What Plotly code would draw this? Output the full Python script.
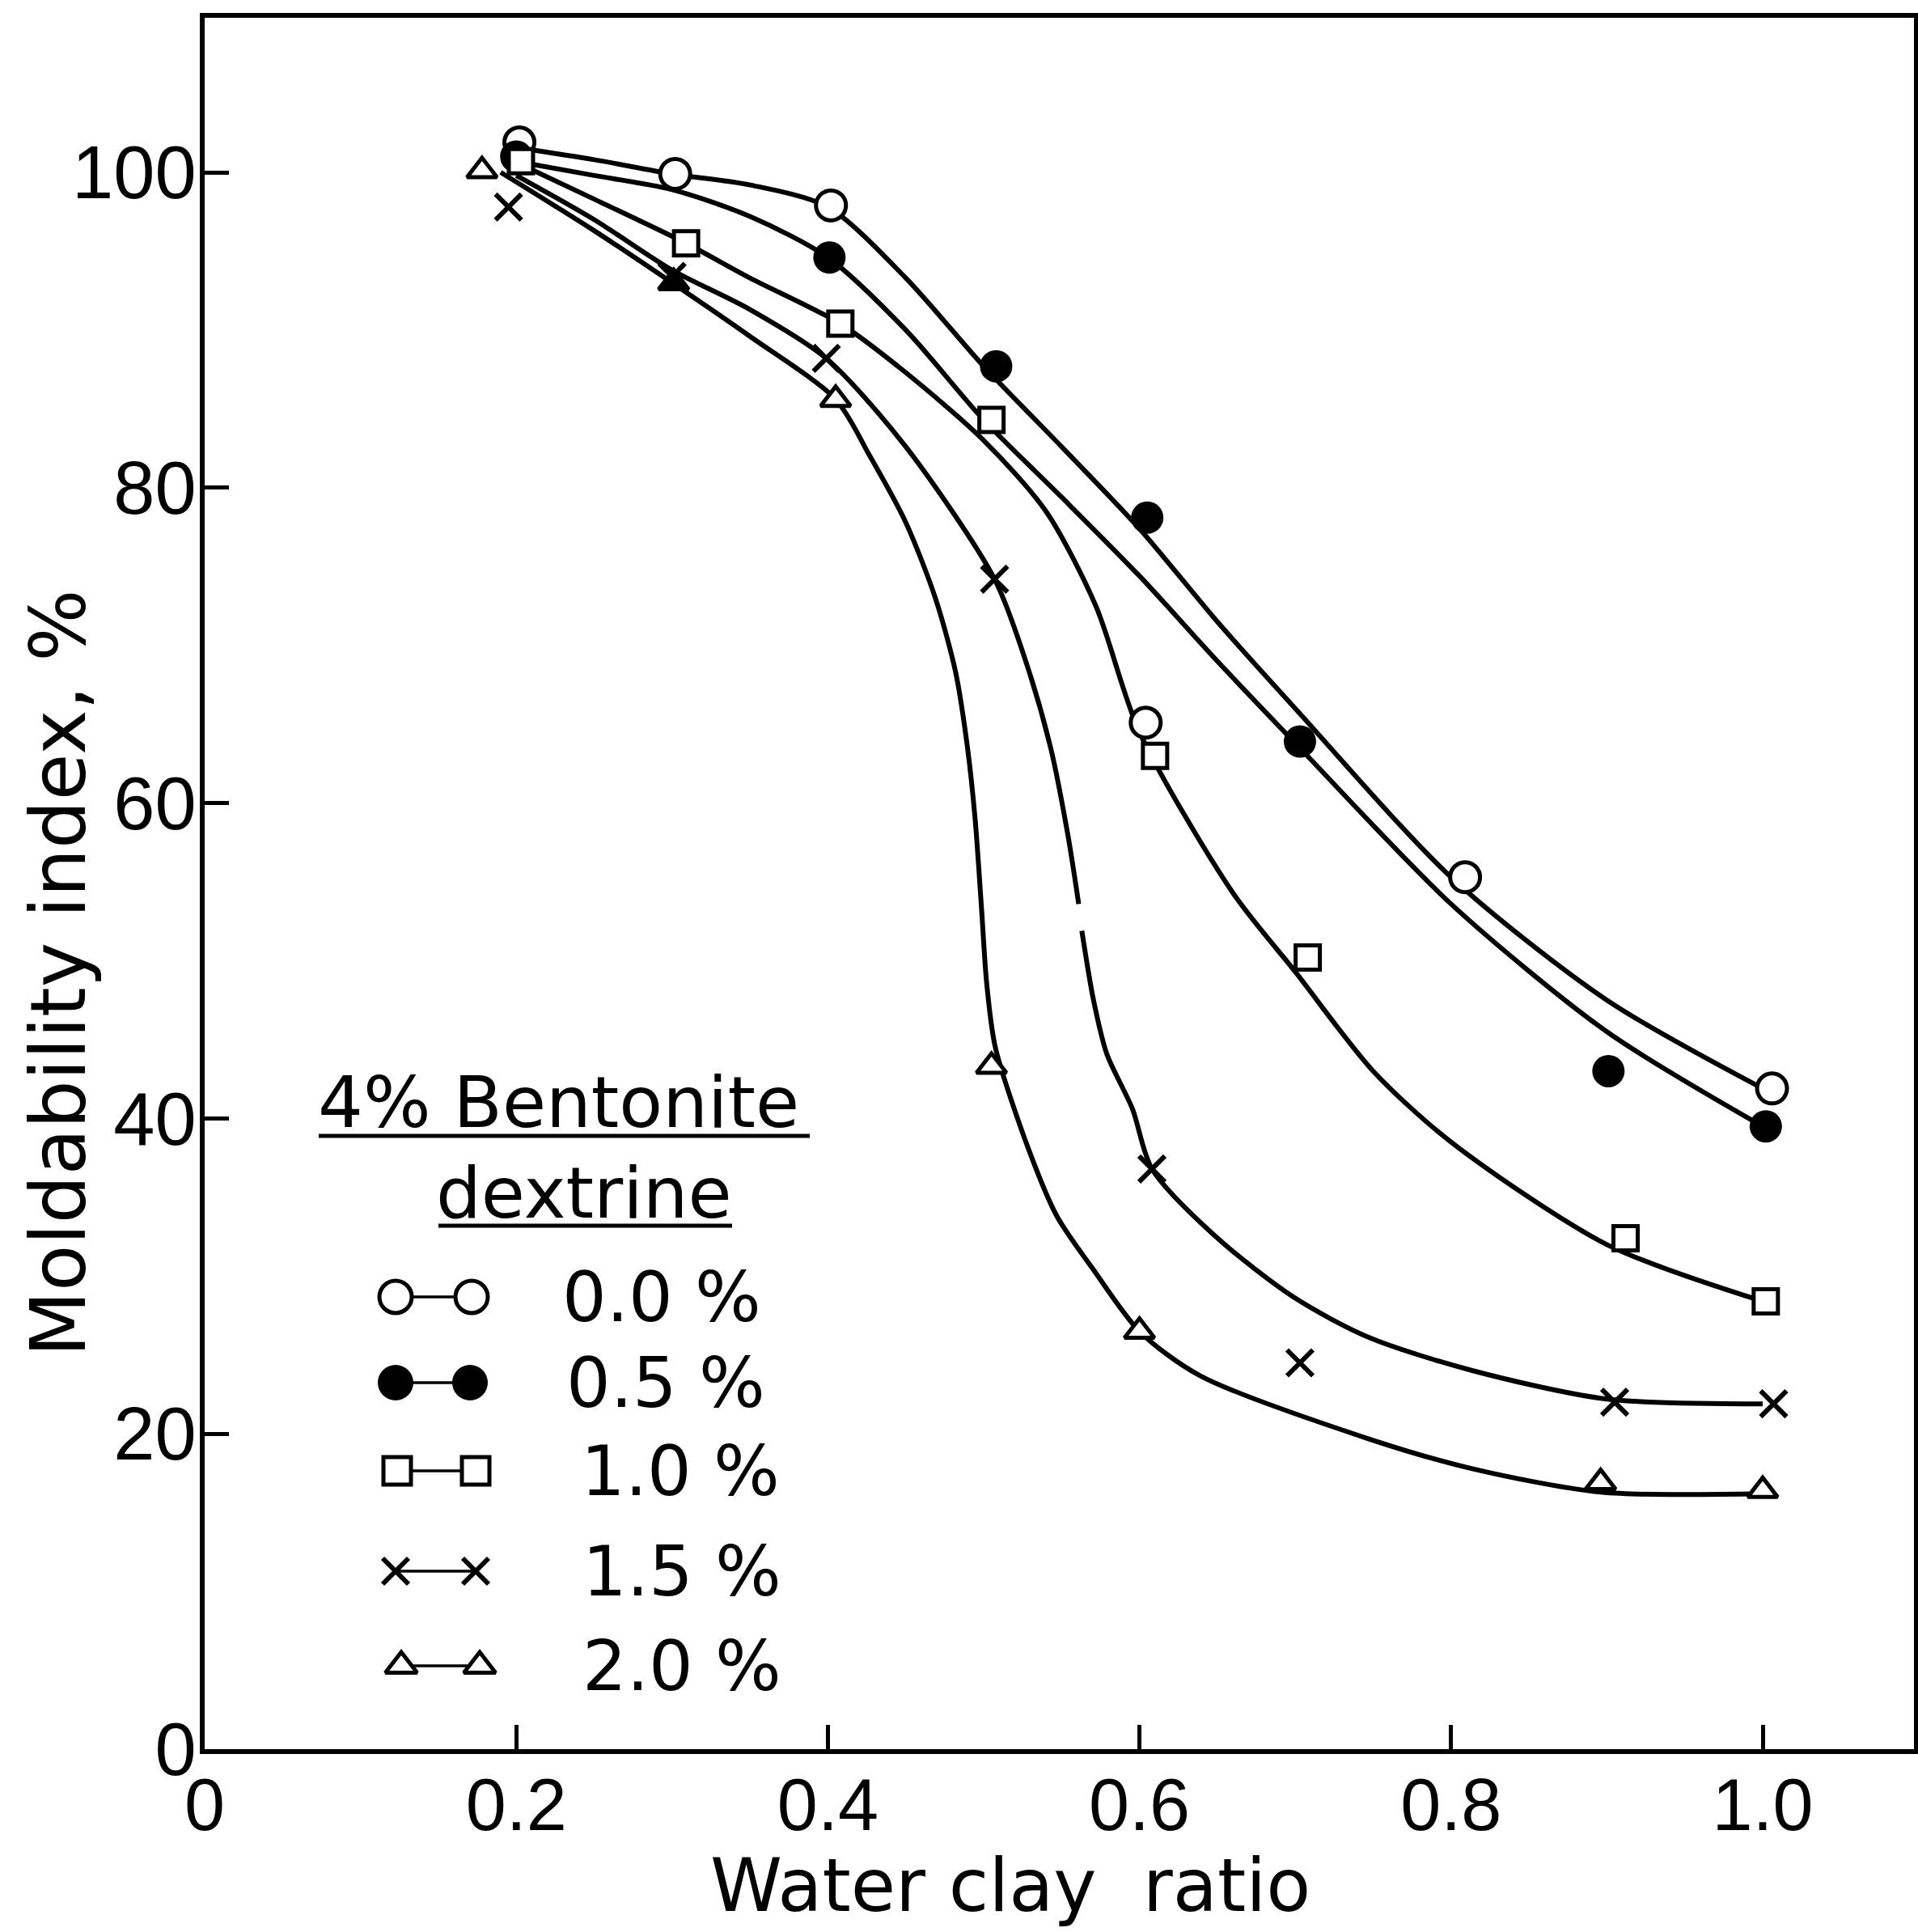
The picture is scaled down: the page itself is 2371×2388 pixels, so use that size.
import plotly.graph_objects as go

W, H = 2371, 2388

# ---------------- data ----------------
series_labels = ["0.0 %", "0.5 %", "1.0 %", "1.5 %", "2.0 %"]
legend_title_1 = "4% Bentonite"
legend_title_2 = "dextrine"
x_title = "Water clay\u00a0 ratio"
y_title = "Moldability index, %"

x_tickvals = [0, 0.2, 0.4, 0.6, 0.8, 1.0]
x_ticktext = ["0", "0.2", "0.4", "0.6", "0.8", "1.0"]
y_tickvals = [0, 20, 40, 60, 80, 100]
y_ticktext = ["0", "20", "40", "60", "80", "100"]

# measured points
x_00 = [0.202, 0.302, 0.402, 0.604, 0.809, 1.006]
y_00 = [101.9, 99.9, 97.9, 65.1, 55.3, 41.9]

x_05 = [0.200, 0.401, 0.508, 0.605, 0.703, 0.901, 1.002]
y_05 = [101.0, 94.6, 87.7, 78.1, 63.9, 43.0, 39.5]

x_10 = [0.203, 0.309, 0.408, 0.505, 0.610, 0.708, 0.912, 1.002]
y_10 = [100.7, 95.5, 90.4, 84.3, 63.0, 50.2, 32.4, 28.4]

x_15 = [0.195, 0.300, 0.399, 0.507, 0.608, 0.703, 0.905, 1.007]
y_15 = [97.8, 93.4, 88.2, 74.2, 36.8, 24.5, 22.0, 21.9]

x_20 = [0.178, 0.301, 0.405, 0.505, 0.600, 0.896, 1.000]
y_20 = [100.1, 93.0, 85.6, 43.3, 26.5, 16.9, 16.4]

# smooth curves as drawn by hand in the chart
cx_00 = [0.205, 0.25, 0.30, 0.35, 0.40, 0.45, 0.50, 0.55, 0.60, 0.65, 0.70, 0.80, 0.90, 1.00]
cy_00 = [101.5, 100.8, 99.9, 99.2, 97.8, 93.3, 87.7, 82.6, 77.4, 71.5, 66.0, 55.3, 47.5, 41.9]

cx_05 = [0.205, 0.25, 0.30, 0.35, 0.40, 0.45, 0.50, 0.55, 0.60, 0.65, 0.70, 0.80, 0.90, 1.00]
cy_05 = [100.6, 99.8, 98.9, 97.2, 94.6, 90.0, 84.3, 79.4, 74.4, 69.0, 63.8, 53.6, 45.5, 39.5]

cx_10 = [0.205, 0.25, 0.309, 0.35, 0.408, 0.45, 0.50, 0.54, 0.572, 0.60, 0.66, 0.70, 0.75, 0.80, 0.90, 1.00]
cy_10 = [100.4, 98.3, 95.5, 93.3, 90.4, 87.3, 83.0, 78.5, 72.5, 64.5, 54.3, 49.3, 43.0, 38.5, 32.0, 28.4]

cx_15a = [0.20, 0.25, 0.30, 0.35, 0.399, 0.45, 0.507, 0.527, 0.543, 0.554, 0.561]
cy_15a = [99.8, 97.0, 93.8, 91.3, 88.2, 82.6, 74.2, 69.0, 63.5, 58.0, 53.6]
cx_15b = [0.563, 0.5705, 0.579, 0.5955, 0.608, 0.649, 0.70, 0.7475, 0.814, 0.90, 1.00]
cy_15b = [51.9, 47.5, 44.1, 40.6, 36.8, 32.5, 28.6, 26.1, 24.0, 22.2, 21.9]

cx_20 = [0.19, 0.25, 0.30, 0.35, 0.405, 0.427, 0.45, 0.469, 0.482, 0.4895, 0.4945, 0.4985,
         0.502, 0.5075, 0.529, 0.547, 0.5705, 0.60, 0.6386, 0.7465, 0.813, 0.896, 1.00]
cy_20 = [100.0, 96.3, 93.0, 89.6, 85.6, 82.0, 77.8, 73.0, 68.3, 63.6, 59.0, 53.5,
         48.5, 44.5, 38.0, 33.8, 30.4, 26.5, 23.7, 19.7, 17.8, 16.3, 16.2]

# ---------------- styling / layout ----------------
FONT_NUM = "Liberation Sans, Arial, sans-serif"
FONT_TXT = "DejaVu Sans, Verdana, sans-serif"
LW = 6

# plot area in pixels
PL, PR, PT, PB = 253, 2366, 22, 2162
X_RANGE = [0, (PR - PL) / 1926.0]
Y_RANGE = [0, (PB - PT) / 19.49]

fig = go.Figure()

def curve(xs, ys):
    fig.add_trace(go.Scatter(x=xs, y=ys, mode="lines",
                             line=dict(color="black", width=LW, shape="spline", smoothing=0.8),
                             hoverinfo="skip", showlegend=False, cliponaxis=False))

curve(cx_00, cy_00)
curve(cx_05, cy_05)
curve(cx_10, cy_10)
curve(cx_15a, cy_15a)
curve(cx_15b, cy_15b)
curve(cx_20, cy_20)

def pts(xs, ys, symbol, size, fill="white", lw=5):
    fig.add_trace(go.Scatter(x=xs, y=ys, mode="markers",
                             marker=dict(symbol=symbol, size=size, color=fill,
                                         line=dict(color="black", width=lw)),
                             showlegend=False, cliponaxis=False))

pts(x_00, y_00, "circle", 37)
pts(x_05, y_05, "circle", 40, fill="black", lw=0)
pts(x_10, y_10, "square", 30)
pts(x_15, y_15, "x-thin", 32, fill="black", lw=6)
tri_fill = ["white", "black", "white", "white", "white", "white", "white"]
fig.add_trace(go.Scatter(x=x_20, y=y_20, mode="markers",
                         marker=dict(symbol="triangle-up", size=32, color=tri_fill,
                                     line=dict(color="black", width=5)),
                         showlegend=False, cliponaxis=False))

# ---------------- custom legend (pixel overlay axes) ----------------
leg_rows_y = [1603, 1709, 1818, 1942, 2059]
leg_x_left = [489, 489, 491, 489, 496]
leg_x_right = [583, 581, 588, 588, 593]
leg_sym = ["circle", "circle", "square", "x-thin", "triangle-up"]
leg_size = [40, 44, 34, 32, 34]
leg_fill = ["white", "black", "white", "black", "white"]
leg_lw = [5, 0, 5, 6, 5]
leg_text_x = [693, 698, 716, 718, 718]

for i in range(5):
    fig.add_trace(go.Scatter(x=[leg_x_left[i], leg_x_right[i]], y=[leg_rows_y[i]] * 2,
                             xaxis="x2", yaxis="y2", mode="lines+markers",
                             line=dict(color="black", width=3.5),
                             marker=dict(symbol=leg_sym[i], size=leg_size[i], color=leg_fill[i],
                                         line=dict(color="black", width=leg_lw[i])),
                             showlegend=False, cliponaxis=False, hoverinfo="skip"))

annotations = []
for i in range(5):
    annotations.append(dict(x=leg_text_x[i] / W, y=1 - leg_rows_y[i] / H, xref="paper", yref="paper",
                            text=series_labels[i], showarrow=False, xanchor="left", yanchor="middle",
                            font=dict(family=FONT_TXT, size=86, color="black")))
annotations.append(dict(x=690 / W, y=1 - 1362 / H, xref="paper", yref="paper", text=legend_title_1,
                        showarrow=False, xanchor="center", yanchor="middle",
                        font=dict(family=FONT_TXT, size=88, color="black")))
annotations.append(dict(x=722 / W, y=1 - 1474 / H, xref="paper", yref="paper", text=legend_title_2,
                        showarrow=False, xanchor="center", yanchor="middle",
                        font=dict(family=FONT_TXT, size=88, color="black")))
annotations.append(dict(x=1249 / W, y=1 - 2330 / H, xref="paper", yref="paper", text=x_title,
                        showarrow=False, xanchor="center", yanchor="middle",
                        font=dict(family=FONT_TXT, size=90, color="black")))
annotations.append(dict(x=72 / W, y=1 - 1203 / H, xref="paper", yref="paper", text=y_title,
                        showarrow=False, xanchor="center", yanchor="middle", textangle=-90,
                        font=dict(family=FONT_TXT, size=94, color="black")))

shapes = [
    dict(type="line", xref="paper", yref="paper", x0=394 / W, x1=1001 / W, y0=1 - 1404 / H, y1=1 - 1404 / H,
         line=dict(color="black", width=5)),
    dict(type="line", xref="paper", yref="paper", x0=542 / W, x1=905 / W, y0=1 - 1515 / H, y1=1 - 1515 / H,
         line=dict(color="black", width=5)),
]

axis_common = dict(showline=True, linewidth=6, linecolor="black", mirror=True,
                   ticks="inside", ticklen=30, tickwidth=5, tickcolor="black",
                   showgrid=False, zeroline=False, automargin=False)

fig.update_layout(
    width=W, height=H,
    margin=dict(l=0, r=0, t=0, b=0),
    paper_bgcolor="white", plot_bgcolor="rgba(0,0,0,0)",
    xaxis=dict(domain=[PL / W, PR / W], range=X_RANGE, tickmode="array",
               tickvals=x_tickvals, ticktext=x_ticktext, anchor="y",
               tickfont=dict(family=FONT_NUM, size=90, color="black"),
               ticklabelstandoff=-14, **axis_common),
    yaxis=dict(domain=[1 - PB / H, 1 - PT / H], range=Y_RANGE, tickmode="array",
               tickvals=y_tickvals, ticktext=y_ticktext, anchor="x",
               tickfont=dict(family=FONT_NUM, size=92, color="black"),
               ticklabelstandoff=-14, **axis_common),
    xaxis2=dict(domain=[0, 1], range=[0, W], visible=False, anchor="y2"),
    yaxis2=dict(domain=[0, 1], range=[H, 0], visible=False, anchor="x2"),
    annotations=annotations,
    shapes=shapes,
    showlegend=False,
)

fig.write_html("out.html")
